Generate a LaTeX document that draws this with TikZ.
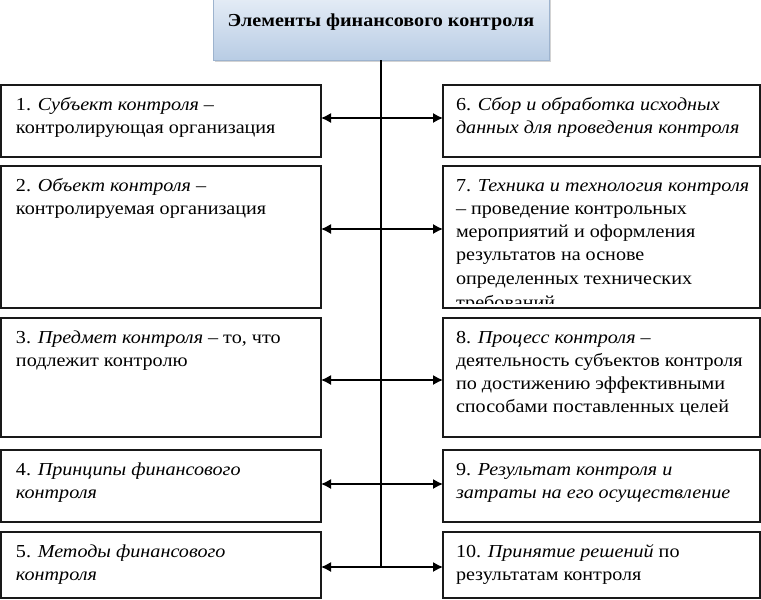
\documentclass[tikz,border=0pt]{standalone}
\usepackage{fontspec}
\setmainfont[FakeStretch=1.1]{Liberation Serif}
\usetikzlibrary{shadows,arrows.meta,positioning,calc}
\definecolor{titletop}{HTML}{E4ECF6}
\definecolor{titlebot}{HTML}{B8CCE4}
\definecolor{titleline}{HTML}{9DB3CE}
\newcommand{\elemfont}{\fontsize{18.3}{23.3}\selectfont}
\tikzstyle{elem} = [draw=black!90, line width=1.7pt, inner xsep=15pt, inner ysep=0pt,
  outer sep=0pt, anchor=north west, font=\elemfont]
\tikzstyle{elemr} = [elem, inner xsep=13pt]
\tikzstyle{head} = [draw=titleline, line width=0.8pt, top color=titletop,
  bottom color=titlebot, inner sep=0pt, outer sep=0pt, anchor=north, font=\bfseries\elemfont,
  drop shadow={shadow xshift=1.5pt, shadow yshift=-2pt, opacity=0.35}]
\tikzstyle{link} = [draw, line width=1.3pt, {Latex[length=10pt,width=10pt]}-{Latex[length=10pt,width=10pt]}]
\tikzstyle{spine} = [draw, line width=1.3pt]
\newcommand{\elem}[4]{node (#1)[elem]{\parbox[t][#3][t]{#2}{\rule{0pt}{25pt}#4}}}
\newcommand{\elemr}[4]{node (#1)[elemr]{\parbox[t][#3][t]{#2}{\rule{0pt}{25pt}#4}}}

\begin{document}
\begin{tikzpicture}[x=1pt,y=1pt]
  \useasboundingbox (0,0) rectangle (761,-600);

  % Title
  \node (title)[head] at (381,2)
    {\parbox[t][62pt][t]{336pt}{\centering\rule{0pt}{28pt}Элементы финансового контроля}};

  % Left column
  \path (1,-85) \elem{s1}{290pt}{72pt}{1. \textit{Субъект контроля} –\\
    контролирующая организация};
  \path (s1.south west)+(0,-9) \elem{s2}{290pt}{142pt}{2. \textit{Объект контроля} –\\
    контролируемая организация};
  \path (s2.south west)+(0,-10) \elem{s3}{290pt}{119pt}{3. \textit{Предмет контроля} – то, что\\
    подлежит контролю};
  \path (s3.south west)+(0,-13) \elem{s4}{290pt}{72pt}{4. \textit{Принципы финансового}\\
    \textit{контроля}};
  \path (s4.south west)+(0,-10) \elem{s5}{290pt}{66pt}{5. \textit{Методы финансового}\\
    \textit{контроля}};

  % Right column
  \path (s1.north east)+(122,0) \elemr{r1}{291pt}{72pt}{6. \textit{Сбор и обработка исходных}\\
    \textit{данных для проведения контроля}};
  \path (s2.north east)+(122,0) \elemr{r2}{291pt}{142pt}{\mbox{7. \textit{Техника и технология контроля}}\\
    – проведение контрольных\\ мероприятий и оформления\\ результатов на основе\\
    определенных технических};
  \path (s3.north east)+(122,0) \elemr{r3}{291pt}{119pt}{8. \textit{Процесс контроля} –\\
    деятельность субъектов контроля\\ по достижению эффективными\\ способами поставленных целей};
  \path (s4.north east)+(122,0) \elemr{r4}{291pt}{72pt}{9. \textit{Результат контроля и}\\
    \textit{затраты на его осуществление}};
  \path (s5.north east)+(122,0) \elemr{r5}{291pt}{66pt}{10. \textit{Принятие решений} по\\
    результатам контроля};

  % cut-off last line of box 7
  \begin{scope}
    \clip ([yshift=5pt]r2.south west) rectangle (r2.north east);
    \node (r2x)[anchor=base west, inner sep=0pt, font=\elemfont]
      at ([xshift=13pt]r2.south west) {требований};
  \end{scope}

  % Connectors
  \coordinate (e5) at ([yshift=-2pt]s5.east);
  \path [spine] (title.south) -- (title.south |- e5);
  \path [link] ([yshift=3pt]s1.east) -- ([yshift=3pt]r1.west);
  \path [link] ([yshift=8pt]s2.east) -- ([yshift=8pt]r2.west);
  \path [link] ([yshift=-2.5pt]s3.east) -- ([yshift=-2.5pt]r3.west);
  \path [link] ([yshift=2pt]s4.east) -- ([yshift=2pt]r4.west);
  \path [link] (e5) -- ([yshift=-2pt]r5.west);
\end{tikzpicture}
\end{document}
